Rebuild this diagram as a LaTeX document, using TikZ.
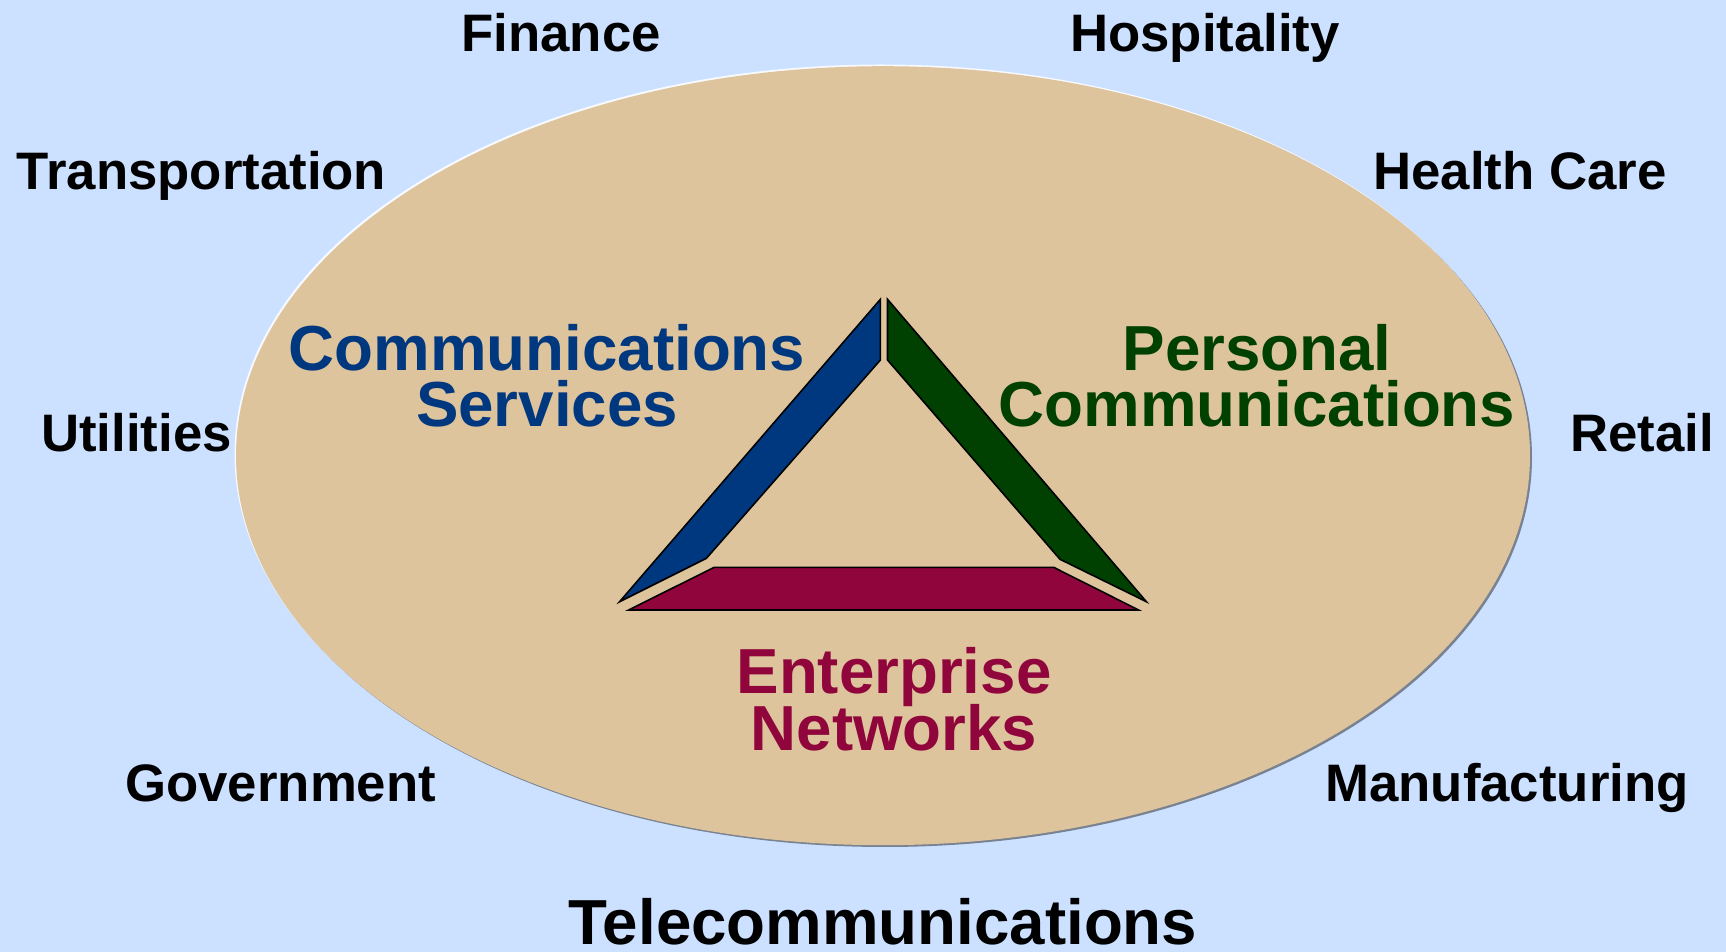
\documentclass[tikz,border=0pt]{standalone}
\usepackage{fontspec}
\setmainfont{Liberation Sans}
\definecolor{bgblue}{RGB}{204,224,255}
\definecolor{tan}{RGB}{222,196,156}
\definecolor{csblue}{RGB}{0,56,128}
\definecolor{pcgreen}{RGB}{0,64,0}
\definecolor{enred}{RGB}{143,5,60}
\definecolor{shadowgray}{RGB}{120,130,145}
\tikzset{
  sector/.style={font=\bfseries\fontsize{15}{17}\selectfont, text=black, anchor=base, inner sep=0pt},
  biglabel/.style={font=\bfseries\fontsize{18.1}{16}\selectfont, anchor=base, inner sep=0pt},
  piece/.style={draw=black, line width=0.45pt, line join=miter}
}
\begin{document}
\begin{tikzpicture}[x=0.01cm,y=-0.01cm]
\useasboundingbox (0,0) rectangle (1726,952);
\fill[bgblue] (0,0) rectangle (1726,952);
% ellipse with shadow and highlight
\fill[shadowgray] (885,457.5) ellipse [x radius=647, y radius=389.5];
\fill[white!85!bgblue] (881.5,454) ellipse [x radius=647, y radius=389.5];
\fill[tan] (883,455.7) ellipse [x radius=647, y radius=389.5];
% triangle pieces
\fill[csblue,piece] (880.4,299.3) -- (880.4,360) -- (706.4,558.3) -- (619.6,601.7) -- cycle;
\fill[pcgreen,piece] (887.5,299.3) -- (887.5,360) -- (1060,559.3) -- (1146.4,601.7) -- cycle;
\fill[enred,piece] (714.3,567.3) -- (1053.6,567.3) -- (1138.6,610) -- (628.6,610) -- cycle;
% sector labels
\node[sector] (fin) at (561,51.7) {Finance};
\node[sector] (hos) at (1205,51.7) {Hospitality};
\node[sector] (tra) at (201.5,189.3) {Transportation};
\node[sector] (hea) at (1520,189.3) {Health Care};
\node[sector] (uti) at (136.5,451.3) {Utilities};
\node[sector] (ret) at (1642,451.3) {Retail};
\node[sector] (gov) at (280.7,801.4) {Government};
\node[sector] (man) at (1507,801.4) {Manufacturing};
\node[biglabel,text=black] (tel) at (883,944.5) {Telecommunications};
% inner labels
\node[biglabel,text=csblue] (cs1) at (547,371) {Communications};
\node[biglabel,text=csblue] (cs2) at (547,427) {Services};
\node[biglabel,text=pcgreen] (pc1) at (1257,371) {Personal};
\node[biglabel,text=pcgreen] (pc2) at (1257,427) {Communications};
\node[biglabel,text=enred] (en1) at (894,693.5) {Enterprise};
\node[biglabel,text=enred] (en2) at (894,750.7) {Networks};
\end{tikzpicture}
\end{document}
